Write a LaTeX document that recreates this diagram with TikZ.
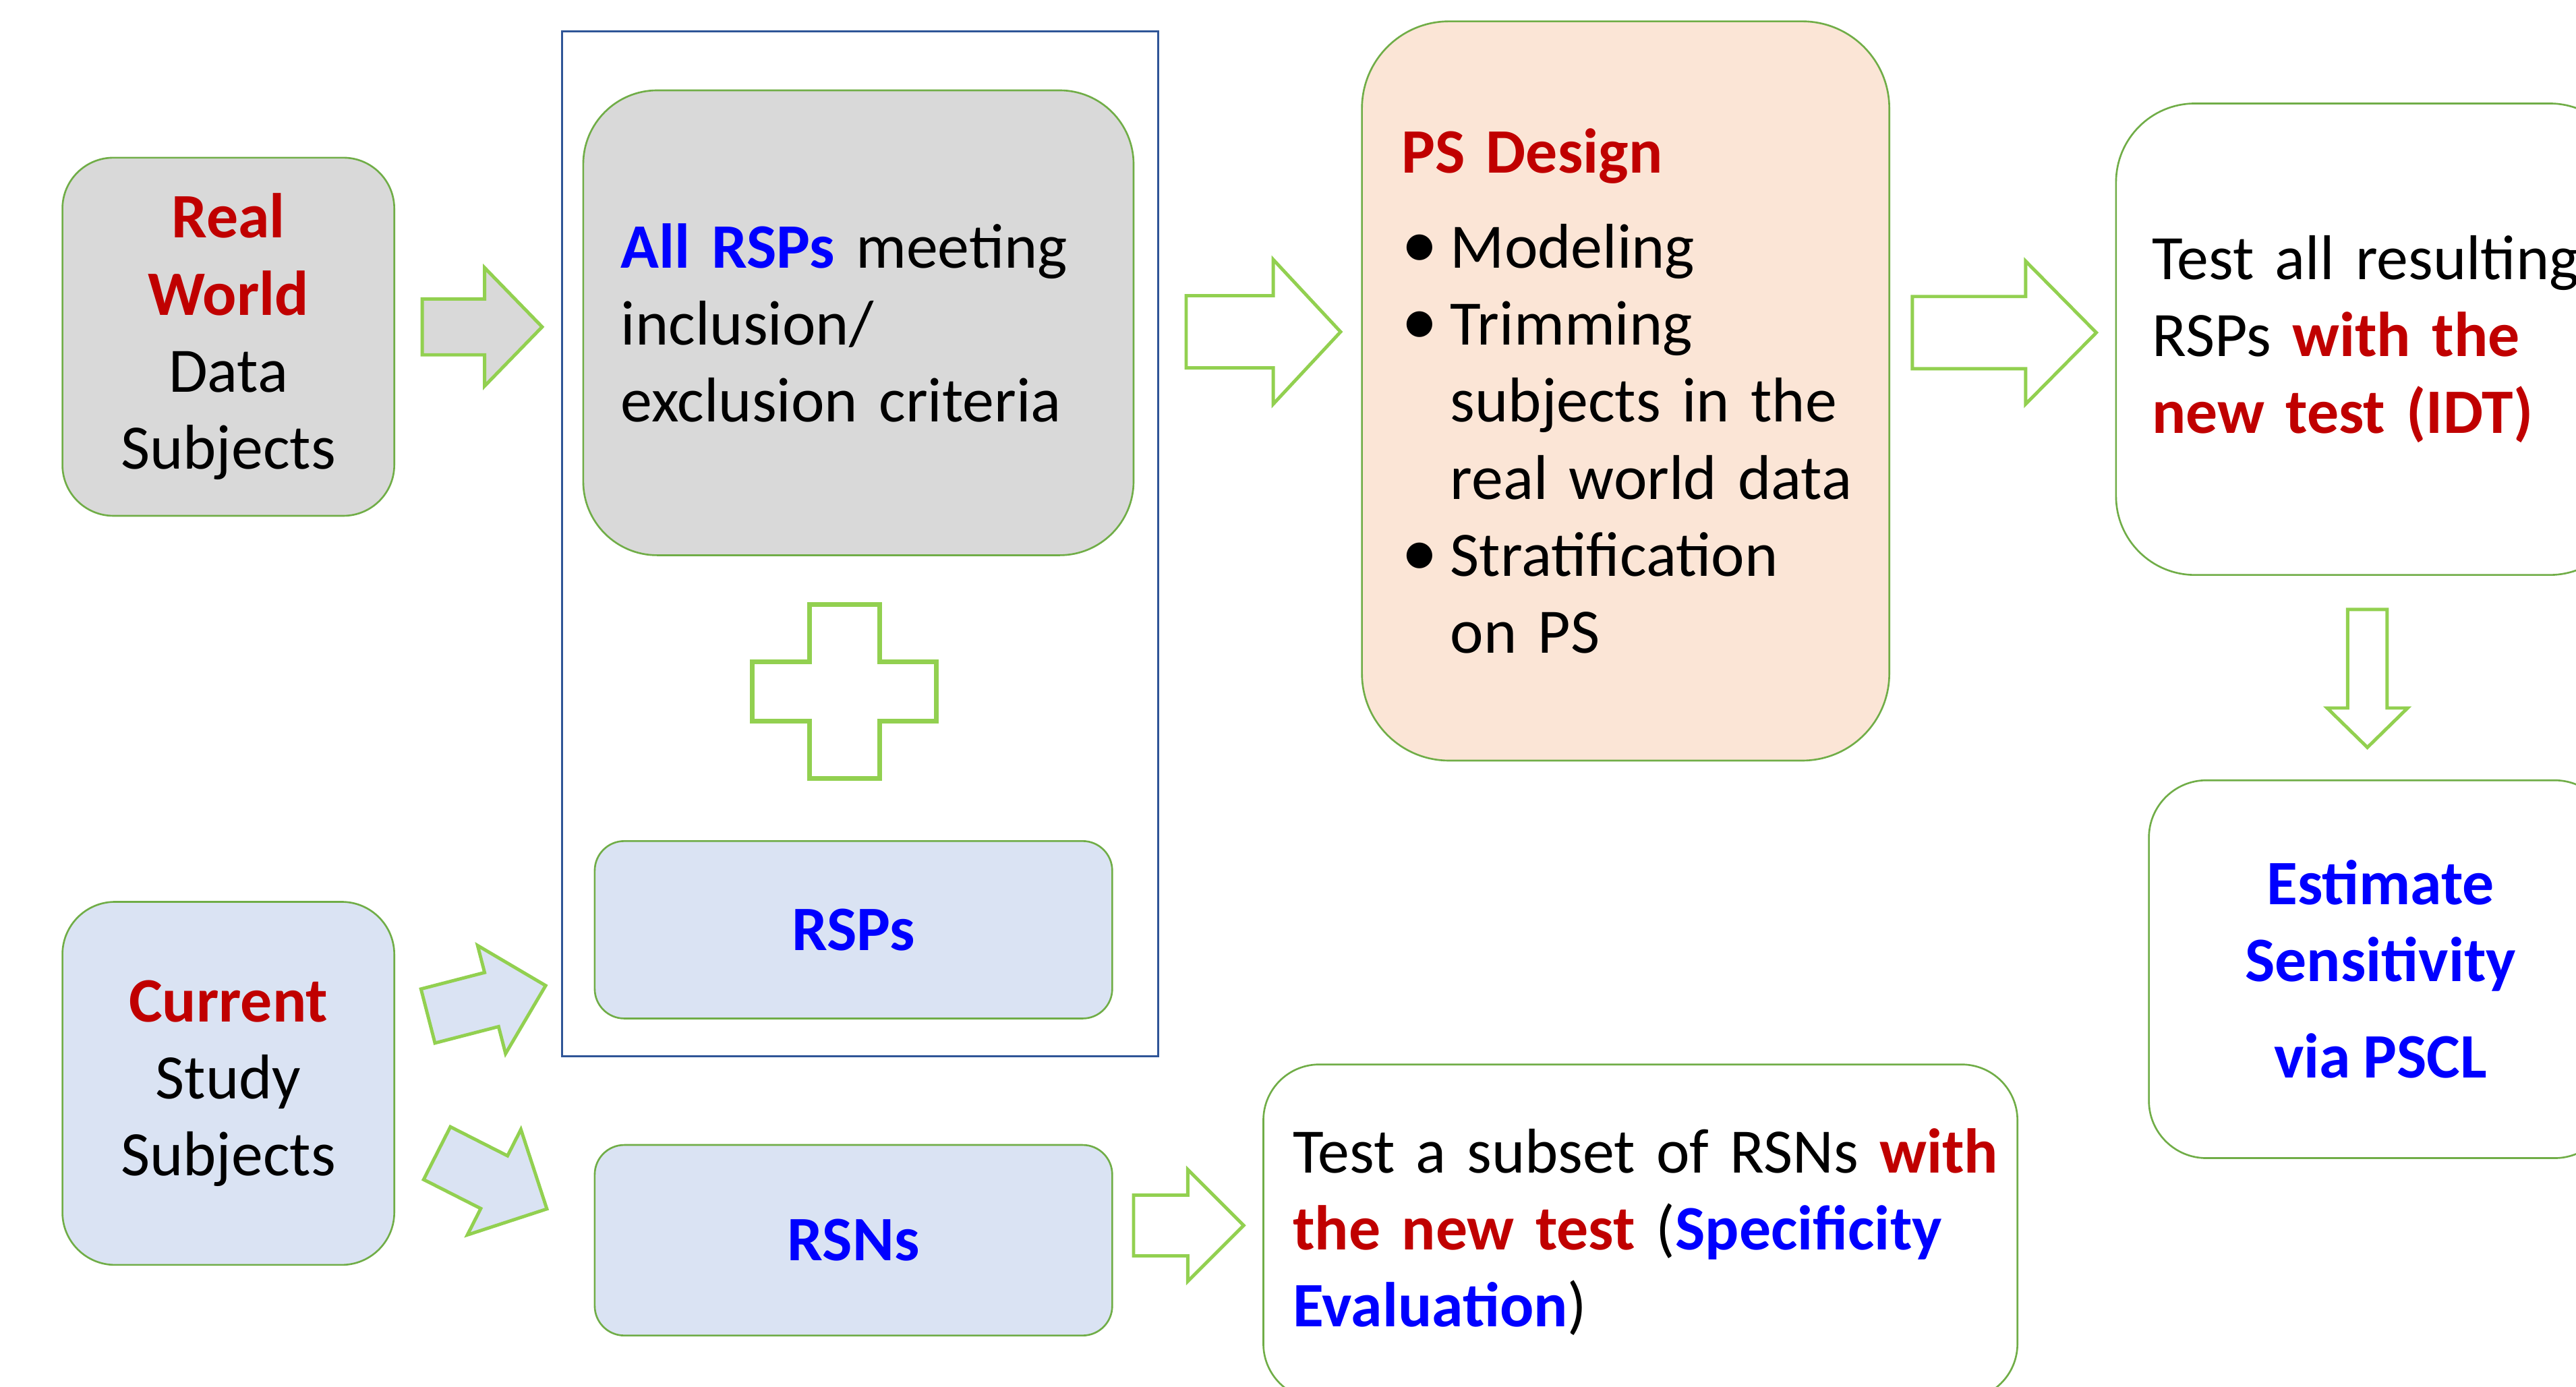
\documentclass[tikz,border=0pt]{standalone}
\usepackage{fontspec}
\setmainfont{Carlito}[WordSpace=0.85]
\usetikzlibrary{positioning,calc}
\definecolor{boxgreen}{HTML}{70AD47}
\definecolor{arrowgreen}{HTML}{92D050}
\definecolor{boxgray}{HTML}{D9D9D9}
\definecolor{boxblue}{HTML}{DAE3F3}
\definecolor{boxpeach}{HTML}{FBE5D6}
\definecolor{frameblue}{HTML}{2F5597}
\definecolor{hired}{HTML}{C00000}
\definecolor{hiblue}{HTML}{0000FF}
\newcommand\px{0.2436mm}
\newcommand\redb[1]{\textcolor{hired}{\bfseries #1}}
\newcommand\blueb[1]{\textcolor{hiblue}{\bfseries #1}}
\newcommand\bul{\makebox[20.7pt][l]{\scalebox{1.15}{\textbullet}}}
\newcommand\ind{\hspace*{20.7pt}}
\tikzset{
	box/.style={
		rectangle,
		draw=boxgreen,
		line width=0.75pt,
		rounded corners=#1*\px,
		inner sep=0pt,
		font=\fontsize{26.7}{32.5}\selectfont,
	},
	boxsize/.style 2 args={
		minimum width=#1*\px,
		minimum height=#2*\px,
	},
	frame/.style={
		rectangle,
		draw=frameblue,
		line width=0.8pt,
	},
	fatarrow/.style={
		draw=arrowgreen,
		line width=1.4pt,
		line join=miter,
	},
	pics/blockarrow/.style n args={5}{code={
		\draw[fatarrow, fill=#5] (0,-#3) -- (#1-#2,-#3) -- (#1-#2,-#4) -- (#1,0)
			-- (#1-#2,#4) -- (#1-#2,#3) -- (0,#3) -- cycle;
	}},
}
\begin{document}
\begin{tikzpicture}[x=\px, y=-\px]
	\useasboundingbox (0,0) rectangle (1568,844);
	% frame round the RSP group
	\node[frame, boxsize={363}{624}] (GRP) at (523.5,331) {};

	% nodes
	\node[box=31, fill=boxgray, boxsize={202}{218}, align=center] (RW) at (139,205)
		{\redb{Real}\\ \redb{World}\\ Data\\ Subjects};
	\node[box=45, fill=boxgray, boxsize={335}{283}, text width=289*\px, inner xsep=23*\px, align=left] (ALL) at (522.5,196.5)
		{\mbox{\blueb{All RSPs} meeting}\\ inclusion/\\ \mbox{exclusion criteria}};
	\node[box=18, fill=boxblue, boxsize={315}{108}, align=center] (RSP) at (519.5,566)
		{\blueb{RSPs}};
	\node[box=32, fill=boxblue, boxsize={202}{221}, align=center] (CUR) at (139,659.5)
		{\redb{Current}\\ Study\\ Subjects};
	\node[box=18, fill=boxblue, boxsize={315}{116}, align=center] (RSN) at (519.5,755)
		{\blueb{RSNs}};
	\node[box=34, fill=white, boxsize={459}{204}, text width=423*\px, inner xsep=18*\px, align=left] (SPEC) at (998.5,750)
		{\mbox{Test a subset of RSNs \redb{with}}\\ \mbox{\redb{the new test} (\blueb{Specificity}}\\ \blueb{Evaluation})};
	\node[box=53, fill=boxpeach, boxsize={321}{450}, text width=273*\px, inner xsep=24*\px, align=left] (PS) at (989.5,238)
		{\redb{PS Design}\\[7.6pt]
		 \bul Modeling\\
		 \bul Trimming\\
		 \ind \mbox{subjects in the}\\
		 \ind \mbox{real world data}\\
		 \bul Stratification\\
		 \ind on PS};
	\node[box=48, fill=white, boxsize={312}{287}, text width=268*\px, inner xsep=22*\px, align=left] (IDT) at (1444,206.5)
		{\mbox{Test all resulting}\\ RSPs \redb{with the}\\ \mbox{\redb{new test (IDT)}}};
	\node[box=35, fill=white, boxsize={282}{230}, align=center] (SENS) at (1449,590)
		{\blueb{Estimate}\\ \blueb{Sensitivity}\\[8pt] \blueb{via PSCL}};

	% plus between the two RSP boxes
	\draw[fatarrow, line width=2pt, fill=white] (492.6,368) -- (535.4,368) -- (535.4,403) -- (570,403)
		-- (570,439) -- (535.4,439) -- (535.4,474) -- (492.6,474) -- (492.6,439)
		-- (458,439) -- (458,403) -- (492.6,403) -- cycle;

	% arrows
	\pic at (257,199) {blockarrow={73}{35}{17}{36}{boxgray}};
	\pic[rotate=14.5] at (260.5,618.5) {blockarrow={74}{34}{17}{34}{boxblue}};
	\pic[rotate=-26.9] at (266,702) {blockarrow={75}{36}{18}{36}{boxblue}};
	\pic at (690,746) {blockarrow={67}{34}{18.5}{34}{white}};
	\pic at (722,202) {blockarrow={94}{41}{22}{44}{white}};
	\pic at (1164,202.5) {blockarrow={112}{43}{22}{43.5}{white}};
	\pic[rotate=-90] at (1441,371) {blockarrow={84}{24}{12}{24.5}{white}};
\end{tikzpicture}
\end{document}
